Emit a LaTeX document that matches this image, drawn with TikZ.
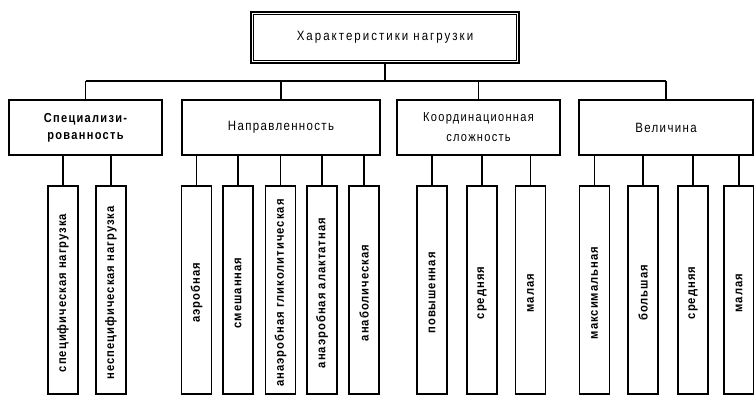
\documentclass[tikz,border=0pt]{standalone}
\usepackage{fontspec}
\setmainfont[LetterSpace=10,FakeStretch=0.85]{Liberation Sans}
\newfontfamily\titlefont[LetterSpace=15,FakeStretch=0.85]{Liberation Sans}
\newfontfamily\leaffont[LetterSpace=8,FakeStretch=0.9]{Liberation Sans}
\begin{document}
\begin{tikzpicture}[x=1pt,y=-1pt,
  box/.style={draw, line width=1.8pt, inner sep=0pt, align=center, font=\fontsize{13.5}{16}\selectfont},
  topbox/.style={box, line width=2pt, minimum width=268pt, minimum height=51pt, font=\titlefont\fontsize{13.5}{16}\selectfont},
  lvlbox/.style={box, minimum height=55pt},
  leaf/.style={draw, line width=1.8pt, inner sep=0pt, minimum width=30pt, minimum height=208pt},
  leaftext/.style={rotate=90, font=\leaffont\bfseries\fontsize{12.5}{14}\selectfont, inner sep=0pt},
  conn/.style={line width=1.2pt}]
\useasboundingbox (0,0) rectangle (754,396);
% top
\node[topbox] (t) at (385,37.5) {Характеристики нагрузки};
\draw[line width=1pt] ([shift={(3.5pt,-3.5pt)}]t.north west) rectangle ([shift={(-3.5pt,3.5pt)}]t.south east);
% level 1
\node[lvlbox, minimum width=153pt, font=\bfseries\fontsize{13}{17}\selectfont] (s) at (85.5,127.5) {Специализи-\\рованность};
\node[lvlbox, minimum width=198pt] (n) at (281,127.5) {Направленность};
\node[lvlbox, minimum width=163pt, font=\fontsize{13}{20}\selectfont] (k) at (478.5,127.5) {Координационная\\сложность};
\node[lvlbox, minimum width=174pt] (v) at (666,127.5) {Величина};
% bus
\coordinate (bus) at (0,81);
\draw[conn] (t.south) -- (t.south |- bus);
\draw[conn] (s.north |- bus) -- (v.north |- bus);
\foreach \b in {s,n,k,v} { \draw[conn] (\b.north) -- (\b.north |- bus); }
% leaves
\foreach \name/\x/\txt/\up in {
  s1/63/специфическая нагрузка/s,
  s2/111/неспецифическая нагрузка/s,
  n1/196.5/аэробная/n,
  n2/238/смешанная/n,
  n3/280.5/анаэробная гликолитическая/n,
  n4/322/анаэробная алактатная/n,
  n5/364/анаболическая/n,
  k1/432/повышенная/k,
  k2/482/средняя/k,
  k3/530.5/малая/k,
  v1/594.5/максимальная/v,
  v2/643/большая/v,
  v3/693/средняя/v,
  v4/739/малая/v} {
  \node[leaf] (\name) at (\x,290) {};
  \node[leaftext] (\name t) at (\x,293) {\txt};
  \draw[conn] (\name.north) -- (\name.north |- \up.south);
}
\end{tikzpicture}
\end{document}
